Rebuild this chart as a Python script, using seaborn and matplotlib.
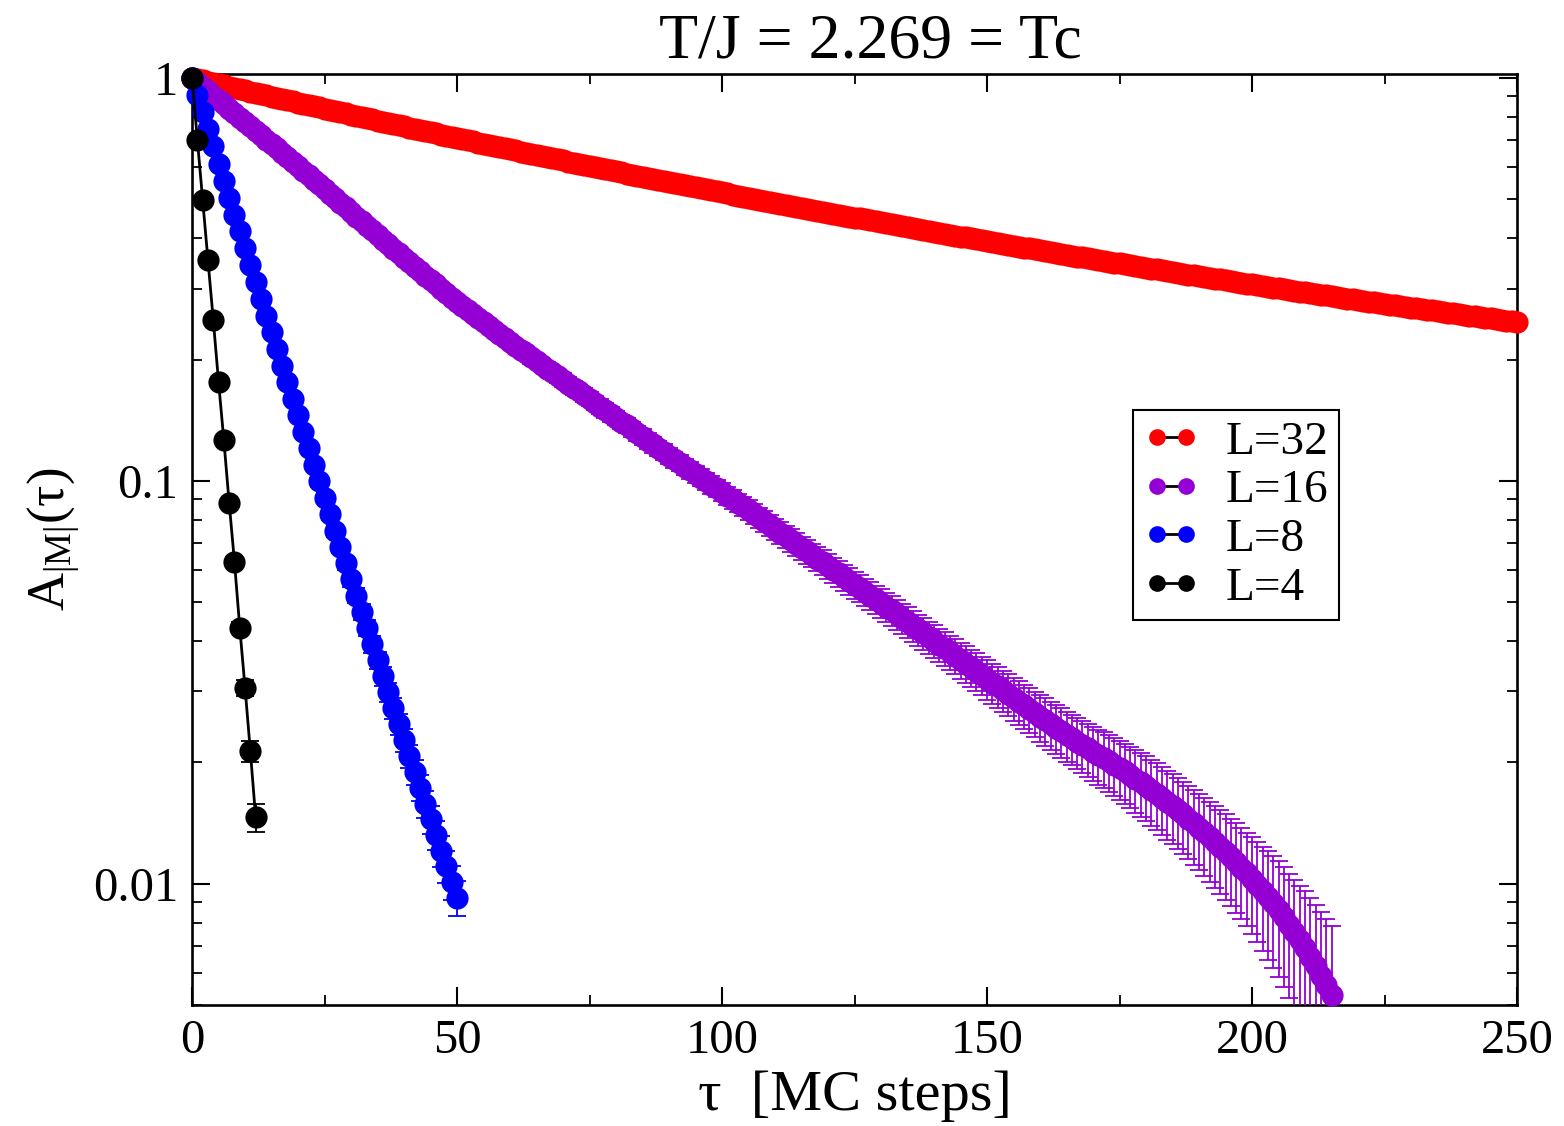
import numpy as np
import pandas as pd
import matplotlib
matplotlib.use("Agg")
import matplotlib.pyplot as plt
import seaborn as sns
from matplotlib.ticker import MultipleLocator, LogLocator, FixedLocator, FixedFormatter, NullFormatter
from matplotlib.lines import Line2D

# ---------------- data ----------------
labels = ["L=32", "L=16", "L=8", "L=4"]
colors = ["#ff0000", "#9400d3", "#0000ff", "#000000"]

A32 = [1.0, 0.9929, 0.9859, 0.9789, 0.9720, 0.9651, 0.9582, 0.9514, 0.9447, 0.9380,
       0.9313, 0.9248, 0.9184, 0.9120, 0.9056, 0.8993, 0.8930, 0.8868, 0.8806, 0.8745,
       0.8685, 0.8625, 0.8566, 0.8507, 0.8449, 0.8391, 0.8334, 0.8277, 0.8220, 0.8164,
       0.8108, 0.8054, 0.7999, 0.7945, 0.7892, 0.7839, 0.7786, 0.7734, 0.7682, 0.7631,
       0.7580, 0.7530, 0.7481, 0.7431, 0.7382, 0.7334, 0.7286, 0.7238, 0.7190, 0.7143,
       0.7096, 0.7050, 0.7004, 0.6959, 0.6914, 0.6869, 0.6824, 0.6780, 0.6736, 0.6692,
       0.6648, 0.6606, 0.6564, 0.6523, 0.6481, 0.6440, 0.6400, 0.6359, 0.6319, 0.6279,
       0.6239, 0.6200, 0.6162, 0.6124, 0.6086, 0.6048, 0.6011, 0.5974, 0.5937, 0.5900,
       0.5863, 0.5827, 0.5792, 0.5757, 0.5722, 0.5687, 0.5653, 0.5618, 0.5584, 0.5551,
       0.5517, 0.5484, 0.5451, 0.5419, 0.5386, 0.5354, 0.5322, 0.5291, 0.5259, 0.5228,
       0.5197, 0.5167, 0.5137, 0.5107, 0.5078, 0.5048, 0.5019, 0.4990, 0.4961, 0.4933,
       0.4904, 0.4876, 0.4848, 0.4820, 0.4793, 0.4765, 0.4738, 0.4711, 0.4684, 0.4658,
       0.4631, 0.4605, 0.4580, 0.4554, 0.4529, 0.4504, 0.4479, 0.4454, 0.4429, 0.4405,
       0.4380, 0.4356, 0.4333, 0.4309, 0.4286, 0.4262, 0.4239, 0.4216, 0.4193, 0.4171,
       0.4148, 0.4126, 0.4104, 0.4082, 0.4061, 0.4039, 0.4018, 0.3996, 0.3975, 0.3954,
       0.3933, 0.3913, 0.3892, 0.3872, 0.3852, 0.3832, 0.3812, 0.3793, 0.3773, 0.3753,
       0.3734, 0.3715, 0.3696, 0.3677, 0.3659, 0.3640, 0.3622, 0.3603, 0.3585, 0.3567,
       0.3549, 0.3532, 0.3514, 0.3497, 0.3480, 0.3463, 0.3446, 0.3429, 0.3412, 0.3396,
       0.3379, 0.3363, 0.3347, 0.3331, 0.3315, 0.3299, 0.3283, 0.3267, 0.3251, 0.3236,
       0.3220, 0.3205, 0.3190, 0.3176, 0.3161, 0.3146, 0.3132, 0.3117, 0.3103, 0.3088,
       0.3074, 0.3060, 0.3046, 0.3032, 0.3018, 0.3005, 0.2991, 0.2977, 0.2964, 0.2950,
       0.2937, 0.2924, 0.2911, 0.2898, 0.2886, 0.2873, 0.2860, 0.2848, 0.2835, 0.2823,
       0.2810, 0.2798, 0.2786, 0.2774, 0.2762, 0.2750, 0.2739, 0.2727, 0.2715, 0.2704,
       0.2692, 0.2681, 0.2670, 0.2659, 0.2648, 0.2637, 0.2626, 0.2615, 0.2604, 0.2593,
       0.2582, 0.2572, 0.2561, 0.2551, 0.2541, 0.2530, 0.2520, 0.2510, 0.2500, 0.2490,
       0.2480]

A16 = [1.0, 0.9752, 0.9510, 0.9274, 0.9043, 0.8818, 0.8599, 0.8386, 0.8177, 0.7974,
       0.7777, 0.7584, 0.7395, 0.7212, 0.7033, 0.6858, 0.6688, 0.6522, 0.6360, 0.6202,
       0.6048, 0.5891, 0.5738, 0.5589, 0.5444, 0.5303, 0.5165, 0.5031, 0.4901, 0.4774,
       0.4650, 0.4529, 0.4412, 0.4297, 0.4186, 0.4077, 0.3971, 0.3868, 0.3768, 0.3670,
       0.3575, 0.3486, 0.3400, 0.3315, 0.3233, 0.3153, 0.3074, 0.2998, 0.2924, 0.2851,
       0.2780, 0.2717, 0.2656, 0.2596, 0.2537, 0.2480, 0.2424, 0.2369, 0.2315, 0.2263,
       0.2212, 0.2164, 0.2118, 0.2072, 0.2028, 0.1984, 0.1942, 0.1900, 0.1859, 0.1819,
       0.1780, 0.1742, 0.1704, 0.1668, 0.1632, 0.1597, 0.1563, 0.1529, 0.1496, 0.1464,
       0.1433, 0.1402, 0.1372, 0.1342, 0.1314, 0.1285, 0.1258, 0.1231, 0.1204, 0.1178,
       0.1153, 0.1130, 0.1107, 0.1084, 0.1062, 0.1040, 0.1019, 0.09983, 0.09780, 0.09581,
       0.09386, 0.09195, 0.09008, 0.08824, 0.08645, 0.08469, 0.08287, 0.08109, 0.07935, 0.07765,
       0.07598, 0.07435, 0.07275, 0.07119, 0.06966, 0.06816, 0.06677, 0.06541, 0.06408, 0.06278,
       0.06150, 0.06018, 0.05889, 0.05762, 0.05639, 0.05518, 0.05405, 0.05296, 0.05188, 0.05082,
       0.04979, 0.04872, 0.04767, 0.04665, 0.04565, 0.04467, 0.04371, 0.04277, 0.04185, 0.04095,
       0.04007, 0.03921, 0.03837, 0.03755, 0.03674, 0.03595, 0.03518, 0.03442, 0.03368, 0.03296,
       0.03225, 0.03156, 0.03088, 0.03022, 0.02957, 0.02893, 0.02831, 0.02770, 0.02711, 0.02652,
       0.02595, 0.02542, 0.02490, 0.02440, 0.02390, 0.02341, 0.02296, 0.02252, 0.02209, 0.02166,
       0.02125, 0.02086, 0.02049, 0.02011, 0.01975, 0.01939, 0.01900, 0.01861, 0.01823, 0.01786,
       0.01750, 0.01710, 0.01672, 0.01634, 0.01597, 0.01561, 0.01522, 0.01485, 0.01448, 0.01412,
       0.01377, 0.01340, 0.01303, 0.01268, 0.01234, 0.01201, 0.01164, 0.01129, 0.01095, 0.01061,
       0.01029, 0.009932, 0.009586, 0.009252, 0.008930, 0.008619, 0.008253, 0.007902, 0.007566, 0.007245,
       0.006937, 0.006574, 0.006231, 0.005905, 0.005596, 0.005303]

rel16 = [0.010, 0.010, 0.011, 0.011, 0.012, 0.012, 0.012, 0.013, 0.013, 0.014,
         0.014, 0.014, 0.015, 0.015, 0.016, 0.016, 0.016, 0.017, 0.017, 0.018,
         0.018, 0.018, 0.019, 0.019, 0.020, 0.020, 0.020, 0.021, 0.021, 0.022,
         0.022, 0.022, 0.023, 0.023, 0.024, 0.024, 0.024, 0.025, 0.025, 0.026,
         0.026, 0.026, 0.027, 0.027, 0.028, 0.028, 0.028, 0.029, 0.029, 0.030,
         0.030, 0.030, 0.031, 0.031, 0.032, 0.032, 0.032, 0.033, 0.033, 0.034,
         0.034, 0.034, 0.035, 0.035, 0.036, 0.036, 0.036, 0.037, 0.037, 0.038,
         0.038, 0.038, 0.039, 0.039, 0.040, 0.040, 0.040, 0.041, 0.041, 0.042,
         0.042, 0.042, 0.043, 0.043, 0.044, 0.044, 0.044, 0.045, 0.045, 0.046,
         0.046, 0.046, 0.047, 0.047, 0.048, 0.048, 0.048, 0.049, 0.049, 0.050,
         0.051, 0.052, 0.053, 0.054, 0.055, 0.056, 0.057, 0.058, 0.059, 0.060,
         0.061, 0.062, 0.063, 0.064, 0.065, 0.066, 0.067, 0.068, 0.069, 0.070,
         0.071, 0.072, 0.073, 0.074, 0.075, 0.076, 0.077, 0.078, 0.079, 0.080,
         0.081, 0.082, 0.083, 0.084, 0.085, 0.086, 0.087, 0.088, 0.089, 0.090,
         0.092, 0.094, 0.096, 0.098, 0.100, 0.102, 0.104, 0.106, 0.108, 0.110,
         0.112, 0.114, 0.116, 0.118, 0.120, 0.122, 0.124, 0.126, 0.128, 0.130,
         0.132, 0.134, 0.136, 0.138, 0.140, 0.142, 0.144, 0.146, 0.148, 0.150,
         0.153, 0.156, 0.159, 0.162, 0.165, 0.168, 0.171, 0.174, 0.177, 0.180,
         0.183, 0.186, 0.189, 0.192, 0.195, 0.198, 0.201, 0.204, 0.207, 0.210,
         0.215, 0.220, 0.225, 0.230, 0.235, 0.240, 0.245, 0.250, 0.255, 0.260,
         0.27, 0.28, 0.29, 0.30, 0.31, 0.32, 0.33, 0.34, 0.35, 0.36,
         0.38, 0.40, 0.42, 0.44, 0.46, 0.48]

A8 = [1.0, 0.9065, 0.8219, 0.7453, 0.6760, 0.6132, 0.5564, 0.5049, 0.4582, 0.4160,
      0.3777, 0.3430, 0.3116, 0.2831, 0.2572, 0.2337, 0.2125, 0.1931, 0.1756, 0.1597,
      0.1453, 0.1322, 0.1203, 0.1095, 0.09967, 0.09074, 0.08263, 0.07527, 0.06856, 0.06247,
      0.05693, 0.05189, 0.04730, 0.04313, 0.03933, 0.03588, 0.03273, 0.02987, 0.02726, 0.02488,
      0.02272, 0.02074, 0.01894, 0.01730, 0.01581, 0.01445, 0.01320, 0.01207, 0.01104, 0.01009,
      0.009231]

rel8 = [0.005, 0.006, 0.007, 0.008, 0.009, 0.010, 0.011, 0.012, 0.013, 0.014,
        0.015, 0.016, 0.017, 0.018, 0.019, 0.020, 0.021, 0.022, 0.023, 0.024,
        0.025, 0.026, 0.027, 0.028, 0.029, 0.030, 0.032, 0.034, 0.036, 0.038,
        0.040, 0.042, 0.044, 0.046, 0.048, 0.050, 0.053, 0.056, 0.059, 0.062,
        0.065, 0.068, 0.071, 0.074, 0.077, 0.080, 0.084, 0.088, 0.092, 0.096,
        0.100]

A4 = [1.0, 0.702, 0.498, 0.353, 0.251, 0.176, 0.126, 0.0882, 0.0630, 0.0432, 0.0306, 0.0213, 0.0146]
rel4 = [0.005, 0.008, 0.010, 0.010, 0.012, 0.012, 0.015, 0.020, 0.025, 0.030, 0.045, 0.060, 0.080]

x_ticks = [0, 50, 100, 150, 200, 250]
y_ticks = [0.01, 0.1, 1]
y_tick_labels = ["0.01", "0.1", "1"]

# ---------------- build long table ----------------
frames = []
for lab, A, rel in [("L=32", A32, None), ("L=16", A16, rel16), ("L=8", A8, rel8), ("L=4", A4, rel4)]:
    n = len(A)
    frames.append(pd.DataFrame({
        "tau": np.arange(n),
        "A": A,
        "rel": rel if rel is not None else [0.0] * n,
        "L": lab,
    }))
df = pd.concat(frames, ignore_index=True)

# ---------------- style ----------------
sns.set_style("ticks")
plt.rcParams.update({
    "font.family": ["Liberation Serif", "DejaVu Serif"],
    "mathtext.fontset": "custom",
    "mathtext.rm": "Liberation Serif",
    "mathtext.it": "Liberation Serif:italic",
    "mathtext.bf": "Liberation Serif:bold",
    "xtick.direction": "in",
    "ytick.direction": "in",
    "xtick.top": True,
    "ytick.right": True,
    "axes.linewidth": 1.9,
    "text.color": "black",
    "axes.labelcolor": "black",
    "xtick.color": "black",
    "ytick.color": "black",
    "axes.edgecolor": "black",
})

fig = plt.figure(figsize=(15.64, 11.26), dpi=100)
ax = fig.add_axes([0.1228, 0.1075, 0.8472, 0.8268])
ax.set_yscale("log")

z = 2
for lab, col in zip(labels, colors):
    sub = df[df["L"] == lab]
    if sub["rel"].max() > 0:
        err = (sub["A"] * sub["rel"]).to_numpy()
        ax.errorbar(sub["tau"], sub["A"], yerr=err, fmt="none", ecolor=col,
                    elinewidth=1.3, capsize=6.5, capthick=1.3, zorder=z)
    sns.lineplot(data=sub, x="tau", y="A", ax=ax, color="black", lw=2.0,
                 marker="o", markersize=16, markerfacecolor=col, markeredgecolor=col,
                 markeredgewidth=0, clip_on=False, zorder=z + 1, legend=False,
                 estimator=None, sort=False)
    z += 2

ax.set_xlim(0, 250)
ax.set_ylim(0.005, 1.023)

ax.xaxis.set_major_locator(FixedLocator(x_ticks))
ax.xaxis.set_minor_locator(MultipleLocator(25))
ax.yaxis.set_major_locator(FixedLocator(y_ticks))
ax.yaxis.set_major_formatter(FixedFormatter(y_tick_labels))
ax.yaxis.set_minor_locator(LogLocator(base=10, subs=np.arange(2, 10)))
ax.yaxis.set_minor_formatter(NullFormatter())

ax.tick_params(which="major", length=13, width=1.5, labelsize=35, pad=10, colors="black")
ax.tick_params(which="minor", length=7, width=1.3, colors="black")

ax.set_title("T/J = 2.269 = Tc", fontsize=46, pad=12, color="black", x=0.512)
ax.set_xlabel("τ  [MC steps]", fontsize=42, labelpad=5)
ax.set_ylabel(r"A$_{\mathrm{|M|}}$(τ)", fontsize=38, labelpad=8)

handles = [Line2D([0], [0], color="black", lw=2.0, marker="o", markersize=12,
                  markerfacecolor=c, markeredgecolor=c, markeredgewidth=0)
           for c in colors]
leg = ax.legend(handles, labels, loc="upper left", bbox_to_anchor=(0.710, 0.639),
                frameon=True, fancybox=False, edgecolor="black", framealpha=1,
                fontsize=34, numpoints=2, handlelength=1.2, handletextpad=0.55,
                labelspacing=0.12, borderpad=0.22, borderaxespad=0)
leg.get_frame().set_linewidth(1.5)
for t in leg.get_texts():
    t.set_color("black")

fig.savefig("out.png", dpi=100)
